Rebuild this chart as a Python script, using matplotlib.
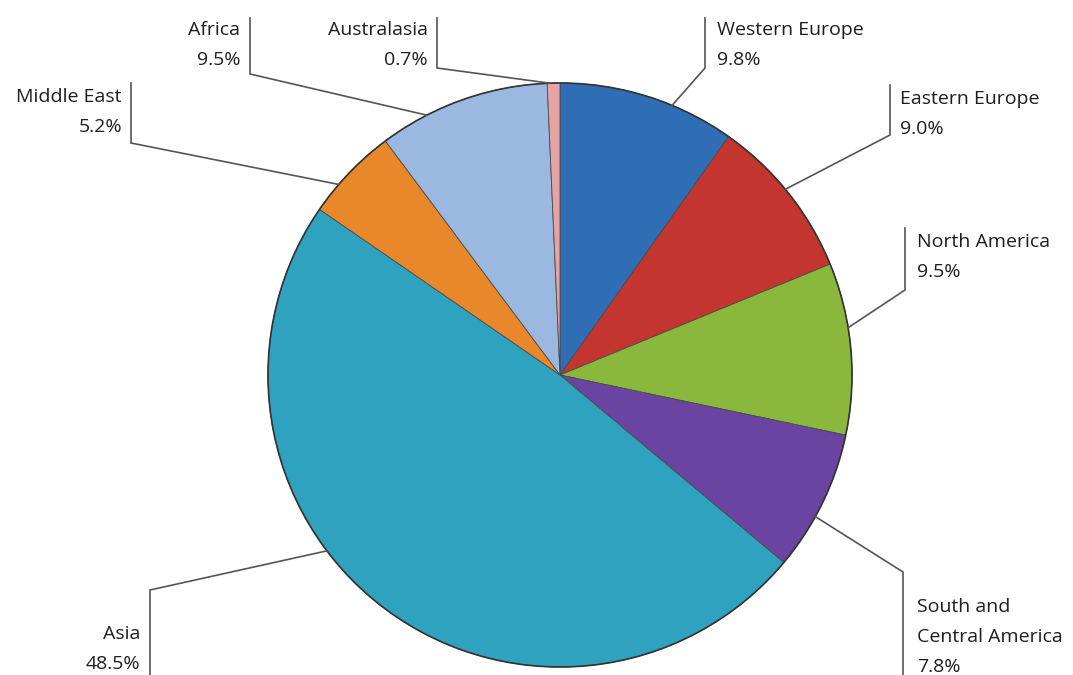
import numpy as np
import matplotlib
matplotlib.use("Agg")
import matplotlib.pyplot as plt

plt.rcParams["font.family"] = ["Open Sans", "DejaVu Sans"]

# regional shares, clockwise from 12 o'clock
regions = ["Western Europe", "Eastern Europe", "North America",
           "South and\nCentral America", "Asia", "Middle East",
           "Africa", "Australasia"]
shares = [9.8, 9.0, 9.5, 7.8, 48.5, 5.2, 9.5, 0.7]
colors = ["#2f6db5", "#c3352e", "#8ab83c", "#6a44a0",
          "#2fa2c0", "#e9882b", "#9bb8e0", "#e6a3a3"]

W, H = 1073, 675
cx, cy, R = 560, 375, 292  # pixel layout, y measured from the top

# label layout: where along the wedge the leader starts (0..1 clockwise),
# elbow point, top of the vertical stroke, text x, first baseline, side
layout = [
    (0.64, (705, 68), 18, 717, 35, "left"),
    (0.47, (890, 135), 85, 900, 104, "left"),
    (0.38, (905, 290), 228, 917, 247, "left"),
    (0.61, (903, 572), 675, 917, 612, "left"),
    (0.59, (150, 590), 675, 140, 639, "right"),
    (0.33, (131, 143), 83, 122, 102, "right"),
    (0.28, (250, 74), 18, 240, 35, "right"),
    (0.20, (437, 68), 18, 428, 35, "right"),
]

fig = plt.figure(figsize=(W / 100, H / 100), dpi=100)
ax = fig.add_axes([0, 0, 1, 1])

wedges, _ = ax.pie(shares, colors=colors, startangle=90, counterclock=False,
                   center=(cx, H - cy), radius=R, frame=True,
                   wedgeprops=dict(edgecolor="#4a4a4a", linewidth=0.6))

# darker rim around the whole pie
rim = plt.Circle((cx, H - cy), R, fill=False, ec="#333333", lw=1.2, zorder=2)
ax.add_patch(rim)

start = 90.0
for name, val, lay in zip(regions, shares, layout):
    span = 3.6 * val
    frac, (ex, ey), vtop, tx, ty, side = lay
    ang = np.radians(start - frac * span)
    ax_, ay_ = cx + R * np.cos(ang), cy - R * np.sin(ang)
    xs = [ax_, ex, ex]
    ys = [ay_, ey, vtop]
    ax.plot(xs, [H - v for v in ys], color="#555555", lw=1.2,
            solid_joinstyle="miter", zorder=3)
    lines = name.split("\n") + [f"{val:.1f}%"]
    for i, ln in enumerate(lines):
        ax.text(tx, H - (ty + 30 * i), ln, ha=side, va="baseline",
                fontsize=14, color="#1e1e1e")
    start -= span

ax.set_xlim(0, W)
ax.set_ylim(0, H)
ax.set_aspect("equal")
ax.axis("off")

fig.savefig("out.png", dpi=100)
